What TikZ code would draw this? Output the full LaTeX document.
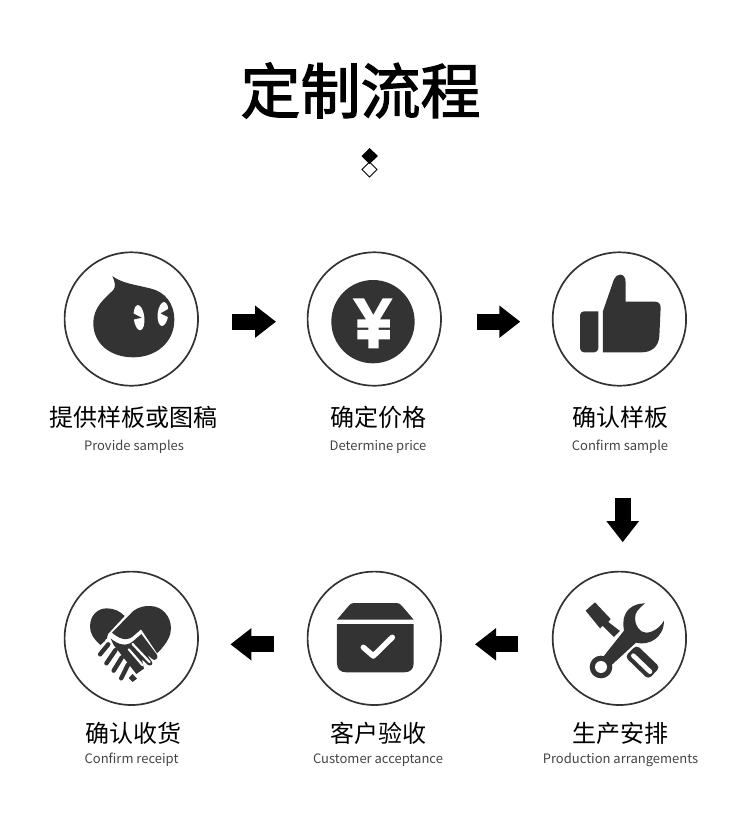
\documentclass[tikz,border=0pt]{standalone}
\usepackage{fontspec}
\setmainfont{Noto Sans CJK SC}
\newfontfamily\titlefont[FakeBold=2]{Noto Sans CJK SC}
\usetikzlibrary{arrows.meta}
\definecolor{icondark}{HTML}{333333}
\definecolor{entext}{HTML}{444444}
\begin{document}
\begin{tikzpicture}[x=1pt, y=-1pt,
    stepcircle/.style={circle,draw=icondark,line width=1.7pt,minimum size=133.4pt,inner sep=0pt,outer sep=0pt},
    cntext/.style={inner sep=0pt,text=black,font=\fontsize{24}{24}\selectfont},
    entitle/.style={inner sep=0pt,text=entext,font=\fontsize{13}{13}\selectfont},
    flowarrow/.style={line width=16pt,-{Triangle[length=21pt,width=31pt]}},
    tinydiamond/.style={x=0.3333pt,y=-0.3333pt}]
    \useasboundingbox (0,0) rectangle (750,836);

    \node[inner sep=0pt,font=\fontsize{60}{60}\selectfont\titlefont] (title) at (360.5,90.5) {定制流程};
    \draw[draw=black,line width=0.8pt,fill=white] (369.5,162) -- (377,169.5) -- (369.5,177) -- (362,169.5) -- cycle;
    \fill[black] (369.5,148) -- (378,156) -- (369.5,164) -- (361.5,156) -- cycle;

    \node[stepcircle] (1) at (131.3,319) {};
    \node[stepcircle] (2) at (374.3,319) {};
    \node[stepcircle] (3) at (619.4,319) {};
    \node[stepcircle] (4) at (619.4,638.3) {};
    \node[stepcircle] (5) at (374.3,638.3) {};
    \node[stepcircle] (6) at (131.3,638.3) {};

    \node[cntext] (t1) at (133.5,417) {提供样板或图稿};
    \node[entitle] (e1) at (134,447) {Provide samples};
    \node[cntext] (t2) at (378,417) {确定价格};
    \node[entitle] (e2) at (378,447) {Determine price};
    \node[cntext] (t3) at (620,417) {确认样板};
    \node[entitle] (e3) at (620,447) {Confirm sample};
    \node[cntext] (t4) at (620,733) {生产安排};
    \node[entitle] (e4) at (620.5,760) {Production arrangements};
    \node[cntext] (t5) at (378,733) {客户验收};
    \node[entitle] (e5) at (378,760) {Customer acceptance};
    \node[cntext] (t6) at (133,733) {确认收货};
    \node[entitle] (e6) at (131.5,760) {Confirm receipt};

    \draw[flowarrow,shorten <=34pt,shorten >=31.6pt] ([yshift=-2.7pt]1.east) -- ([yshift=-2.7pt]2.west);
    \draw[flowarrow,shorten <=35.7pt,shorten >=32.4pt] ([yshift=-2.7pt]2.east) -- ([yshift=-2.7pt]3.west);
    \draw[flowarrow,shorten <=112.6pt,shorten >=29.4pt] ([xshift=3.3pt]3.south) -- ([xshift=3.3pt]4.north);
    \draw[flowarrow,shorten <=34.4pt,shorten >=34pt] ([yshift=-6pt]4.west) -- ([yshift=-6pt]5.east);
    \draw[flowarrow,shorten <=33.6pt,shorten >=32.4pt] ([yshift=-6pt]5.west) -- ([yshift=-6pt]6.east);

    % drop
    \begin{scope}[shift={(50,240)},tinydiamond]
        \fill[icondark] (187,108) .. controls (215,130) and (260,135) .. (300,145) .. controls (345,155) and (373,190) .. (373,240) .. controls (373,305) and (320,352) .. (250,352) .. controls (180,352) and (130,310) .. (130,250) .. controls (130,200) and (165,175) .. (190,150) .. controls (198,140) and (195,125) .. cycle;
    \end{scope}
    \begin{scope}[shift={(125,295)},tinydiamond]
        \fill[white,rotate around={6:(42,68)}] (42,68) ellipse [x radius=16,y radius=38];
        \fill[white,rotate around={-6:(114,57)}] (114,57) ellipse [x radius=16,y radius=36];
        \fill[icondark] (24,55) -- (50,68) -- (24,74) -- cycle;
        \fill[icondark] (133,40) -- (107,55) -- (133,68) -- cycle;
    \end{scope}

    % yen
    \begin{scope}[shift={(300,260)},tinydiamond]
        \fill[icondark] (219,185) circle [radius=125];
        \fill[white] (158,115) -- (192,115) -- (220,165) -- (248,115) -- (278,115) -- (240,178) -- (270,178) -- (270,203) -- (236,203) -- (236,210) -- (270,210) -- (270,238) -- (236,238) -- (236,265) -- (205,265) -- (205,238) -- (172,238) -- (172,210) -- (205,210) -- (205,203) -- (172,203) -- (172,178) -- (198,178) -- cycle;
    \end{scope}

    % thumb
    \begin{scope}[shift={(540,240)},tinydiamond]
        \fill[icondark,rounded corners=4pt] (175,214) -- (120,214) -- (120,337) -- (175,337) [sharp corners] -- cycle;
        \fill[icondark] (189,337) -- (189,213) -- (222,118) .. controls (228,100) and (257,95) .. (257,128) -- (257,185) -- (345,185) .. controls (356,185) and (362,192) .. (362,203) -- (358,290) .. controls (355,320) and (335,337) .. (305,337) -- cycle;
    \end{scope}

    % tools
    \begin{scope}[shift={(540,560)},tinydiamond]
        \fill[icondark] (137,152) -- (165,127) -- (212,177) -- (205,186) -- (240,213) -- (222,231) -- (188,197) -- (180,205) -- cycle;
        \fill[icondark] (315,130) .. controls (280,130) and (250,150) .. (250,190) .. controls (250,200) and (251,206) .. (252,212) -- (190,290) -- (215,315) -- (288,248) .. controls (325,258) and (372,235) .. (372,182) .. controls (362,200) and (340,218) .. (318,218) .. controls (298,218) and (285,195) .. (285,175) .. controls (285,155) and (298,145) .. (315,130) -- cycle;
        \fill[icondark] (183,321) circle [radius=34];
        \fill[white] (183,321) circle [radius=18];
        \fill[icondark,rounded corners=4pt] (290,255) -- (360,322) -- (325,358) -- (255,290) -- cycle;
        \draw[white,line width=4.6pt,line cap=round] (280,287) -- (330,335);
    \end{scope}

    % box
    \begin{scope}[shift={(300,560)},tinydiamond]
        \fill[icondark] (111,179) -- (145,139) .. controls (150,132) and (155,129) .. (162,129) -- (290,129) .. controls (297,129) and (302,132) .. (307,139) -- (341,179) -- cycle;
        \fill[icondark] (111,192) -- (341,192) -- (341,310) .. controls (341,328) and (330,337) .. (313,337) -- (139,337) .. controls (122,337) and (111,328) .. (111,310) -- cycle;
        \draw[white,line width=5.5pt,line cap=round,line join=round] (190,262) -- (220,288) -- (277,232);
    \end{scope}

    % hands
    \begin{scope}[shift={(85.3,600)},x=0.315pt,y=-0.3333pt]
        \fill[icondark] (48,135) .. controls (25,115) and (15,100) .. (15,80) .. controls (15,45) and (40,25) .. (68,25) .. controls (90,25) and (110,33) .. (125,48) -- (72,102) -- (68,118) -- cycle;
        \fill[icondark] (85,98) -- (150,35) .. controls (170,20) and (185,18) .. (205,18) .. controls (245,18) and (272,50) .. (272,85) .. controls (272,105) and (262,128) .. (228,160) -- (177,88) -- (150,110) .. controls (130,125) and (105,115) .. cycle;
        \fill[icondark] (80,115) .. controls (105,135) and (130,140) .. (150,125) -- (178,102) -- (228,165) .. controls (232,174) and (222,184) .. (214,178) -- (196,164) -- (212,186) .. controls (216,194) and (206,200) .. (198,194) -- (180,178) -- (186,206) -- (162,222) -- (90,135) -- cycle;
        \draw[white,line width=2.2pt,line cap=round] (150,132) -- (204,186);
        \draw[white,line width=2.2pt,line cap=round] (138,148) -- (182,196);
        \draw[white,line width=2.6pt] (66,118) -- (162,232);
        \draw[icondark,line width=4.4pt,line cap=round] (73,133) -- (47,163);
        \draw[icondark,line width=4.4pt,line cap=round] (96,150) -- (67,190);
        \draw[icondark,line width=4.4pt,line cap=round] (116,172) -- (90,212);
        \draw[icondark,line width=4.4pt,line cap=round] (136,193) -- (114,235);
        \fill[icondark] (150,222) -- (164,236) -- (150,246) -- (138,234) -- cycle;
    \end{scope}
\end{tikzpicture}
\end{document}
